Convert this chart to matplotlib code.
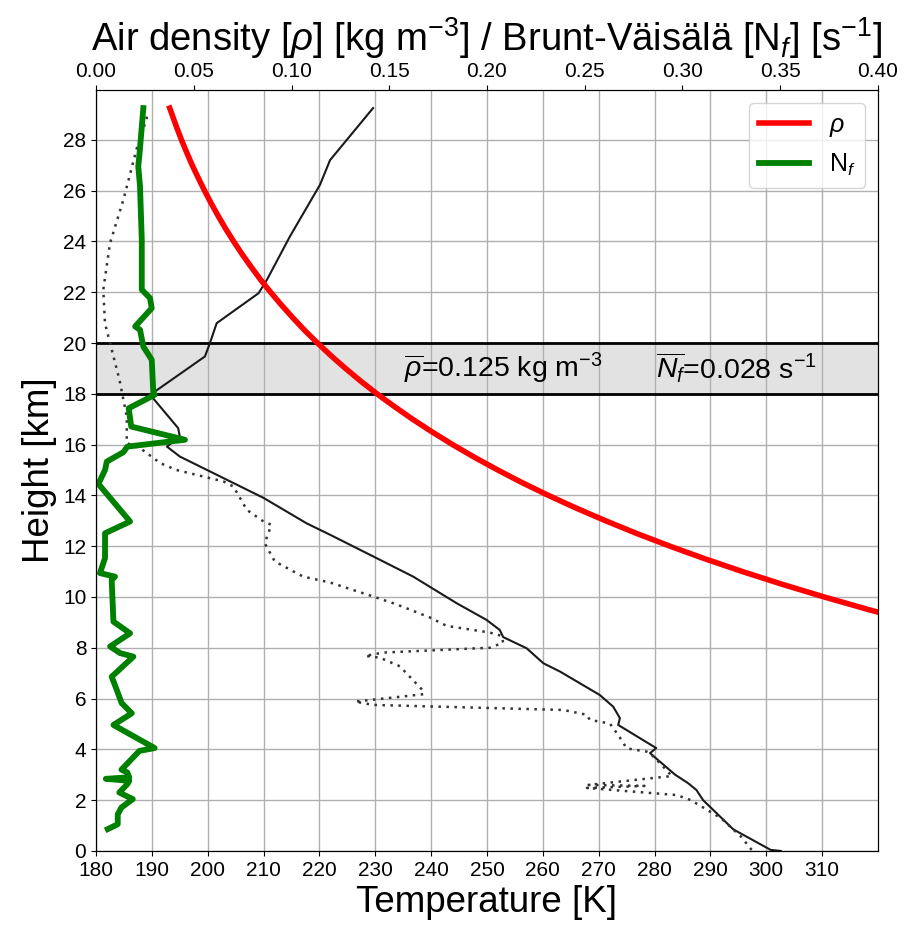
import matplotlib
matplotlib.use("Agg")
import matplotlib.pyplot as plt

plt.rcParams['font.family'] = ['Liberation Sans', 'DejaVu Sans']
plt.rcParams['mathtext.fontset'] = 'custom'
plt.rcParams['mathtext.rm'] = 'Liberation Sans'
plt.rcParams['mathtext.it'] = 'Liberation Sans:italic'
plt.rcParams['mathtext.bf'] = 'Liberation Sans:bold'

# temperature profile [K] vs height [km]
temp_h = [0.0, 0.04, 0.85, 2.0, 2.4, 2.67, 3.0, 3.85, 4.05, 4.96, 5.23, 5.68, 6.14,
          7.06, 7.39, 7.98, 8.42, 8.7, 9.1, 9.75, 10.8, 11.6, 12.45, 12.9, 13.9,
          15.53, 15.92, 16.32, 16.65, 17.96, 19.47, 20.0, 20.78, 21.96, 22.49,
          24.19, 26.23, 27.2, 29.25]
temp_k = [302.6, 300.8, 294.1, 288.7, 287.5, 286.0, 283.7, 279.2, 280.3, 273.5, 273.8,
          272.6, 270.2, 263.1, 260.1, 257.1, 252.9, 252.3, 249.9, 244.6, 236.8, 229.6,
          221.9, 217.7, 210.0, 195.0, 192.7, 195.0, 194.7, 189.7, 199.5, 200.4, 201.6,
          209.1, 210.6, 214.7, 220.1, 221.9, 229.6]

# dew point profile [K]
dew_h = [0.04, 0.56, 1.29, 2.0, 2.2, 2.48, 2.56, 2.6, 2.95, 3.4, 3.85, 3.91, 4.04,
         4.57, 4.83, 5.02, 5.16, 5.36, 5.55, 5.75, 5.88, 6.17, 6.3, 7.27, 7.61, 7.68,
         7.81, 8.0, 8.2, 8.47, 8.6, 8.86, 9.19, 9.71, 10.02, 10.57, 10.8, 11.4, 12.12,
         12.84, 12.97, 13.43, 14.35, 14.55, 15.0, 15.27, 15.86, 16.06, 16.58, 17.1,
         18.55, 20.0, 20.78, 22.1, 23.93, 25.64, 27.67, 28.66, 29.12]
dew_k = [297.4, 295.5, 291.9, 286.5, 284.0, 267.9, 278.2, 268.2, 283.1, 281.2, 279.2,
         278.6, 275.0, 273.5, 272.6, 272.0, 268.4, 267.9, 263.7, 229.6, 226.4, 238.6,
         238.6, 234.4, 230.8, 228.2, 231.4, 250.5, 252.9, 252.6, 250.5, 242.8, 239.8,
         233.8, 229.6, 221.9, 217.1, 212.0, 210.2, 211.4, 210.0, 207.0, 204.6, 202.8,
         194.4, 191.5, 187.9, 185.5, 185.5, 185.5, 184.2, 182.5, 181.6, 181.3, 182.5,
         184.9, 187.3, 188.8, 189.4]

# air density [kg m-3]
rho_h = [9, 9.5, 10, 10.5, 11, 11.5, 12, 12.5, 13, 13.5, 14, 14.5, 15, 15.5, 16, 16.5,
         17, 17.5, 18, 18.5, 19, 19.5, 20, 20.5, 21, 21.5, 22, 22.5, 23, 23.5, 24, 24.5,
         25, 25.5, 26, 26.5, 27, 27.5, 28, 28.5, 29.25]
rho = [0.4196, 0.3953, 0.3725, 0.3510, 0.3307, 0.3116, 0.2936, 0.2766, 0.2607, 0.2456,
       0.2314, 0.2180, 0.2055, 0.1936, 0.1824, 0.1719, 0.1619, 0.1526, 0.1437, 0.1354,
       0.1276, 0.1202, 0.1133, 0.1067, 0.1006, 0.0948, 0.0893, 0.0841, 0.0793, 0.0747,
       0.0704, 0.0663, 0.0625, 0.0589, 0.0555, 0.0523, 0.0492, 0.0464, 0.0437, 0.0412,
       0.0377]

# Brunt-Vaisala frequency [s-1]
nf_h = [0.86, 1.05, 1.44, 1.71, 2.04, 2.30, 2.63, 2.76, 2.84, 2.90, 3.09, 3.20, 3.94,
        4.05, 4.96, 5.42, 5.82, 6.34, 6.86, 7.65, 7.79, 8.05, 8.57, 9.03, 10.67, 10.80,
        10.94, 11.53, 12.51, 12.97, 14.45, 15.0, 15.33, 15.70, 15.92, 16.19, 16.71,
        17.43, 17.96, 18.03, 19.34, 19.86, 20.52, 20.65, 21.37, 21.77, 22.1, 24.06,
        26.17, 26.95, 27.67, 29.25]
nf = [0.0060, 0.0111, 0.0111, 0.0130, 0.0188, 0.0119, 0.0160, 0.0170, 0.0050, 0.0170,
      0.0160, 0.0130, 0.0222, 0.0300, 0.0089, 0.0183, 0.0131, 0.0106, 0.0080, 0.0191,
      0.0123, 0.0072, 0.0174, 0.0089, 0.0080, 0.0097, 0.0020, 0.0046, 0.0046, 0.0174,
      0.0012, 0.0046, 0.0055, 0.0140, 0.0160, 0.0455, 0.0180, 0.0167, 0.0300, 0.0293,
      0.0285, 0.0242, 0.0225, 0.0200, 0.0285, 0.0276, 0.0234, 0.0234, 0.0225, 0.0216,
      0.0225, 0.0242]

layer = (18, 20)
rho_mean = 0.125
nf_mean = 0.028

fig = plt.figure(figsize=(9.06, 9.31), dpi=100)
ax = fig.add_axes([0.106, 0.086, 0.863, 0.817])

ax.axhspan(layer[0], layer[1], color='#e2e2e2', zorder=0)
ax.axhline(layer[0], color='k', lw=2)
ax.axhline(layer[1], color='k', lw=2)
ax.plot(temp_k, temp_h, color='#1a1a1a', lw=1.5)
ax.plot(dew_k, dew_h, color='#333333', lw=1.8, ls=(0, (1, 2.2)))

ax.set_xlim(180, 320)
ax.set_ylim(0, 29.95)
ax.set_xticks(range(180, 320, 10))
ax.set_yticks(range(0, 30, 2))
ax.grid(True, color='#b0b0b0', lw=1)
ax.set_axisbelow(True)
ax.tick_params(labelsize=15)
ax.set_xlabel('Temperature [K]', fontsize=26.5)
ax.set_ylabel('Height [km]', fontsize=26.5)

ax.text(235.2, 19, r'$\overline{\rho}$=%.3f kg m$^{-3}$' % rho_mean, fontsize=20.5,
        va='center')
ax.text(280.3, 19, r'$\overline{N_f}$=%.3f s$^{-1}$' % nf_mean, fontsize=20.5,
        va='center')

ax2 = ax.twiny()
ax2.plot(rho, rho_h, color='red', lw=4, label=r'$\rho$')
ax2.plot(nf, nf_h, color='green', lw=4.2, label=r'N$_f$')
ax2.set_xlim(0, 0.4)
ax2.set_xticks([0, 0.05, 0.1, 0.15, 0.2, 0.25, 0.3, 0.35, 0.4])
ax2.set_xticklabels(['0.00', '0.05', '0.10', '0.15', '0.20', '0.25', '0.30', '0.35', '0.40'])
ax2.tick_params(labelsize=15)
ax2.set_xlabel(r'Air density [$\rho$] [kg m$^{-3}$] / Brunt-Väisälä [N$_f$] [s$^{-1}$]',
               fontsize=27.5, labelpad=8)
ax2.legend(loc='upper right', fontsize=18)

fig.savefig('out.png', dpi=100)
